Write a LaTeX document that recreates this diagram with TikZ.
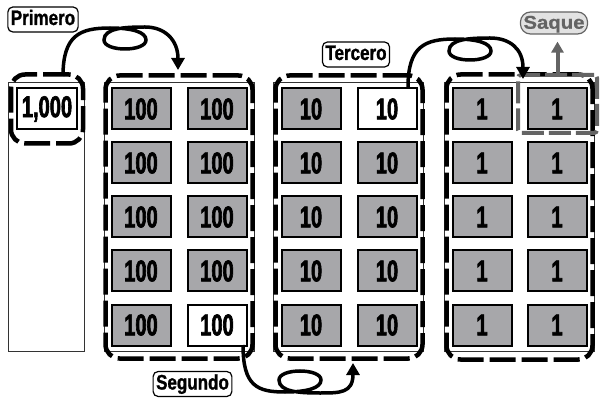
\documentclass[tikz,border=0pt]{standalone}
\usepackage{fontspec}
\setmainfont{Liberation Sans}[FakeStretch=0.81, BoldFeatures={FakeBold=1.2}]
\newfontfamily\digitfont{Liberation Sans}[FakeStretch=0.67, BoldFeatures={FakeBold=2}]
\newfontfamily\widefont{Liberation Sans}[FakeStretch=1.1, BoldFeatures={FakeBold=0.8}]
\usetikzlibrary{arrows.meta,positioning,fit,calc}
\definecolor{cellgray}{RGB}{167,167,170}
\definecolor{darkgray}{RGB}{100,100,100}
\definecolor{palegray}{RGB}{226,226,226}
\tikzset{
  colbox/.style={rectangle, draw=black!80, line width=0.8pt, minimum width=150pt,
                 minimum height=269pt, inner sep=0pt},
  numcell/.style={rectangle, draw=black, line width=2pt, fill=cellgray, minimum width=59pt,
                  minimum height=41pt, inner sep=0pt, font=\digitfont\fontsize{30}{30}\selectfont\bfseries},
  dashgroup/.style={rectangle, rounded corners=14pt, draw=black, line width=4.5pt,
                    dash pattern=on 26pt off 6pt, inner xsep=5pt, inner ysep=12pt},
  saquebox/.style={rectangle, rounded corners=3pt, draw=darkgray, line width=4pt,
                   dash pattern=on 22pt off 5pt, minimum width=79pt, minimum height=58pt},
  namebox/.style={rectangle, rounded corners=5pt, draw=black, line width=1.2pt, fill=white,
                  inner xsep=3pt, inner ysep=0pt, minimum height=25pt, text height=15pt,
                  text depth=4pt, font=\fontsize{21}{21}\selectfont\bfseries},
  loopline/.style={line width=3.5pt, -{Triangle[length=12pt,width=13pt]}},
}
\begin{document}
\begin{tikzpicture}[x=1pt, y=-1pt]
\useasboundingbox (0,0) rectangle (600,398);
% columns
\node[colbox, minimum width=76pt] (col1) at (46,216.5) {};
\node[colbox] (col2) at (179,216.5) {};
\node[colbox] (col3) at (348,216.5) {};
\node[colbox] (col4) at (519,216.5) {};

% cells
\node[numcell, fill=white, minimum width=60pt] (thousand) at (47,109) {1,000};
\foreach \r/\fh/\ft in {1/cellgray/white, 2/cellgray/cellgray, 3/cellgray/cellgray,
                        4/cellgray/cellgray, 5/white/cellgray} {
  \node[numcell] (ha\r) at (141,{55+54*\r}) {100};
  \node[numcell, fill=\fh] (hb\r) at (217,{55+54*\r}) {100};
  \node[numcell] (ta\r) at (311,{55+54*\r}) {10};
  \node[numcell, fill=\ft] (tb\r) at (387,{55+54*\r}) {10};
  \node[numcell] (oa\r) at (482,{55+54*\r}) {1};
  \node[numcell] (ob\r) at (557,{55+54*\r}) {1};
}

% dashed groups
\node[dashgroup, fit=(thousand), inner ysep=13pt] (g1) {};
\node[dashgroup, fit=(ha1)(hb5)] (g2) {};
\node[dashgroup, fit=(ta1)(tb5)] (g3) {};
\node[dashgroup, fit=(oa1)(ob5), inner ysep=13pt] (g4) {};
\node[saquebox] (withdraw) at (557.5,104) {};

% labels
\node[namebox] (primero) at (43,19.5) {Primero};
\node[namebox] (tercero) at (356,54.5) {Tercero};
\node[namebox] (segundo) at (192.5,384) {Segundo};
\node[namebox, draw=darkgray, fill=palegray, text=darkgray, rounded corners=10pt,
      minimum height=22pt, text height=13.5pt, text depth=2pt,
      font=\widefont\fontsize{18.5}{18.5}\selectfont\bfseries] (saque) at (554,23) {Saque};

% loops
\coordinate (s1) at (63,76);
\coordinate (e1) at (178,70);
\coordinate (s2) at (408,87);
\coordinate (e2) at (523,79);
\coordinate (s3) at (243,345);
\coordinate (e3) at (353,363);
\draw[loopline] (s1) .. controls +(0,-41) and +(-30,0) .. ++(47,-48)
  .. controls +(22,0) and +(0,-8) .. ++(36,12)
  .. controls +(0,12) and +(0,12) .. ++(-42,0)
  .. controls +(0,-12) and +(-20,0) .. ++(41,-13)
  .. controls +(20,0) and +(0,-30) .. (e1);
\draw[loopline] (s2) .. controls +(0,-41) and +(-30,0) .. ++(47,-48)
  .. controls +(22,0) and +(0,-8) .. ++(36,12)
  .. controls +(0,12) and +(0,12) .. ++(-42,0)
  .. controls +(0,-12) and +(-20,0) .. ++(41,-13)
  .. controls +(20,0) and +(0,-30) .. (e2);
\draw[loopline] (s3) .. controls +(0,41) and +(-28,0) .. ++(42,47)
  .. controls +(22,0) and +(0,8) .. ++(36,-12)
  .. controls +(0,-12) and +(0,-12) .. ++(-42,0)
  .. controls +(0,12) and +(-20,0) .. ++(41,13)
  .. controls +(20,0) and +(0,30) .. (e3);
\draw[line width=4pt, darkgray, -{Triangle[length=11pt,width=12pt]}, shorten >=7pt]
  (withdraw.north) -- (withdraw.north |- saque.south);
\end{tikzpicture}
\end{document}
